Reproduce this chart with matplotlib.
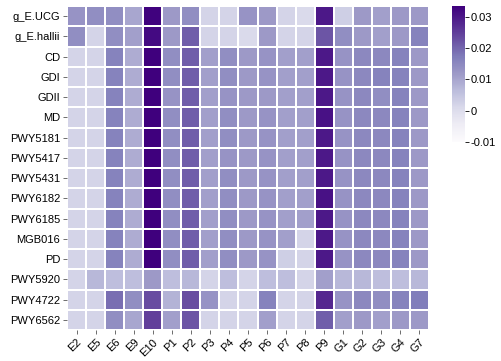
import matplotlib
matplotlib.use("Agg")
import matplotlib.pyplot as plt
import numpy as np

plt.rcParams['font.family'] = ['Liberation Sans', 'DejaVu Sans']
plt.rcParams['axes.unicode_minus'] = False

rows = ['g_E.UCG', 'g_E.hallii', 'CD', 'GDI', 'GDII', 'MD', 'PWY5181', 'PWY5417',
        'PWY5431', 'PWY6182', 'PWY6185', 'MGB016', 'PD', 'PWY5920', 'PWY4722', 'PWY6562']
cols = ['E2', 'E5', 'E6', 'E9', 'E10', 'P1', 'P2', 'P3', 'P4', 'P5',
        'P6', 'P7', 'P8', 'P9', 'G1', 'G2', 'G3', 'G4', 'G7']

# (approximate)
values = [
    [0.013, 0.014, 0.014, 0.010, 0.033, 0.012, 0.014, 0.002, 0.002, 0.013, 0.012, 0.002, 0.001, 0.030, 0.003, 0.012, 0.011, 0.012, 0.012],
    [0.014, 0.002, 0.014, 0.011, 0.032, 0.012, 0.021, 0.002, 0.002, 0.001, 0.012, 0.002, 0.002, 0.022, 0.014, 0.012, 0.011, 0.012, 0.016],
    [0.002, 0.002, 0.016, 0.009, 0.034, 0.014, 0.021, 0.011, 0.014, 0.012, 0.013, 0.011, 0.011, 0.030, 0.013, 0.015, 0.015, 0.016, 0.012],
    [0.002, 0.002, 0.016, 0.009, 0.034, 0.014, 0.021, 0.011, 0.014, 0.012, 0.013, 0.011, 0.011, 0.030, 0.013, 0.015, 0.016, 0.016, 0.012],
    [0.002, 0.002, 0.016, 0.009, 0.034, 0.013, 0.021, 0.011, 0.013, 0.012, 0.012, 0.011, 0.011, 0.030, 0.013, 0.015, 0.014, 0.016, 0.012],
    [0.002, 0.002, 0.016, 0.009, 0.034, 0.014, 0.021, 0.011, 0.014, 0.012, 0.013, 0.011, 0.011, 0.031, 0.013, 0.015, 0.015, 0.016, 0.012],
    [0.002, 0.002, 0.016, 0.009, 0.034, 0.014, 0.021, 0.011, 0.014, 0.012, 0.013, 0.011, 0.011, 0.030, 0.013, 0.015, 0.015, 0.016, 0.012],
    [0.002, 0.002, 0.016, 0.009, 0.034, 0.014, 0.021, 0.011, 0.013, 0.012, 0.013, 0.011, 0.011, 0.030, 0.013, 0.015, 0.015, 0.016, 0.012],
    [0.002, 0.002, 0.016, 0.009, 0.034, 0.014, 0.021, 0.011, 0.014, 0.012, 0.013, 0.011, 0.011, 0.030, 0.013, 0.015, 0.015, 0.016, 0.012],
    [0.002, 0.002, 0.016, 0.009, 0.034, 0.014, 0.021, 0.011, 0.014, 0.012, 0.013, 0.011, 0.011, 0.031, 0.013, 0.015, 0.015, 0.016, 0.012],
    [0.002, 0.002, 0.016, 0.009, 0.034, 0.014, 0.021, 0.011, 0.014, 0.012, 0.013, 0.011, 0.011, 0.030, 0.013, 0.015, 0.015, 0.016, 0.012],
    [0.002, 0.002, 0.016, 0.009, 0.034, 0.014, 0.021, 0.011, 0.014, 0.012, 0.013, 0.011, 0.002, 0.030, 0.013, 0.015, 0.015, 0.016, 0.012],
    [0.002, 0.002, 0.016, 0.009, 0.034, 0.014, 0.021, 0.011, 0.014, 0.012, 0.013, 0.003, 0.002, 0.030, 0.013, 0.015, 0.015, 0.016, 0.012],
    [0.002, 0.007, 0.006, 0.006, 0.012, 0.006, 0.007, 0.002, 0.006, 0.002, 0.006, 0.006, 0.002, 0.011, 0.007, 0.007, 0.006, 0.006, 0.007],
    [0.002, 0.002, 0.019, 0.014, 0.023, 0.008, 0.023, 0.013, 0.002, 0.002, 0.016, 0.002, 0.002, 0.028, 0.013, 0.015, 0.014, 0.016, 0.017],
    [0.002, 0.002, 0.014, 0.010, 0.025, 0.011, 0.022, 0.002, 0.002, 0.002, 0.011, 0.002, 0.002, 0.021, 0.011, 0.012, 0.011, 0.012, 0.012],
]
cbar_ticks = [-0.01, 0, 0.01, 0.02, 0.03]
cbar_labels = ['-0.01', '0', '0.01', '0.02', '0.03']

W, H = 501, 361
fig = plt.figure(figsize=(W / 100, H / 100), dpi=100)
ax = fig.add_axes([67 / W, 1 - 330 / H, 362 / W, 324 / H])
cax = fig.add_axes([452 / W, 1 - 142 / H, 13 / W, 136 / H])

data = np.array(values)
mesh = ax.pcolormesh(data, cmap='Purples', vmin=-0.01, vmax=0.0335,
                     edgecolors='white', linewidth=1.2)
ax.set_xlim(0, len(cols))
ax.set_ylim(len(rows), 0)
ax.set_xticks(np.arange(len(cols)) + 0.5)
ax.set_xticklabels(cols, rotation=45, ha='right', rotation_mode='anchor', fontsize=8)
ax.set_yticks(np.arange(len(rows)) + 0.5)
ax.set_yticklabels(rows, fontsize=8)
ax.tick_params(length=3, width=0.6, color='#555555', pad=2)
for s in ax.spines.values():
    s.set_visible(False)

cb = fig.colorbar(mesh, cax=cax)
cb.set_ticks(cbar_ticks)
cb.set_ticklabels(cbar_labels)
cb.outline.set_visible(False)
cax.tick_params(length=3, width=0.6, labelsize=8, pad=1)

fig.savefig('out.png', dpi=100)
